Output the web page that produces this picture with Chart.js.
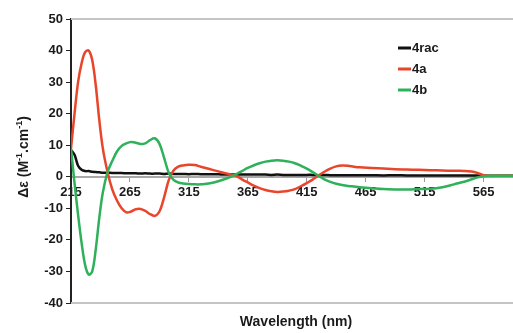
<!DOCTYPE html>
<html>
<head>
<meta charset="utf-8">
<script src="https://cdn.jsdelivr.net/npm/chart.js@4.4.1/dist/chart.umd.min.js"></script>
<style>
  html, body { margin: 0; padding: 0; background: #fff; }
  #wrap { width: 513px; height: 333px; position: relative; }
</style>
</head>
<body>
<div id="wrap"><canvas id="mycanvas"></canvas></div>
<script>
// wavelengths (nm) shared by all three series
var wavelength = [215, 218, 221, 224, 227, 230, 233, 236, 239, 242, 246, 250, 254, 258, 262, 266, 270, 274, 278, 282,
	286, 290, 294, 298, 302, 306, 310, 315, 320, 325, 330, 335, 340, 345, 350, 355, 360, 365, 370, 375,
	380, 385, 390, 395, 400, 405, 410, 415, 420, 425, 430, 435, 440, 445, 450, 455, 460, 470, 480, 490,
	500, 510, 520, 530, 540, 545, 550, 555, 560, 565, 570, 575, 580, 585, 590];

var rac = [8.5, 7, 3.5, 2.2, 1.8, 1.8, 1.6, 1.5, 1.4, 1.3, 1.3, 1.2, 1.2, 1.2, 1.1, 1.1, 1.1, 1.0, 1.1, 1.0,
	1.0, 1.0, 0.9, 1.0, 0.9, 0.9, 0.9, 0.8, 0.9, 0.8, 0.8, 0.8, 0.8, 0.7, 0.8, 0.7, 0.7, 0.7, 0.7, 0.7,
	0.7, 0.6, 0.7, 0.6, 0.6, 0.6, 0.6, 0.6, 0.6, 0.5, 0.6, 0.5, 0.5, 0.5, 0.5, 0.5, 0.5, 0.5, 0.4, 0.5,
	0.4, 0.4, 0.4, 0.4, 0.4, 0.4, 0.4, 0.4, 0.4, 0.3, 0.3, 0.3, 0.3, 0.3, 0.3];

var a4 = [9, 20, 30, 36, 39.5, 40, 37, 29, 18, 9, 1.5, -4, -7.5, -10, -11.3, -11, -10.3, -10.2, -10.8, -11.8,
	-12.4, -11, -6.5, -1, 2, 3.2, 3.6, 3.8, 3.7, 3.2, 2.7, 2.2, 1.7, 1.2, 0.8, 0.3, -0.8, -1.8, -2.8, -3.6,
	-4.2, -4.6, -4.8, -4.7, -4.4, -3.9, -3.0, -2.0, -0.9, 0.4, 1.6, 2.6, 3.3, 3.6, 3.5, 3.2, 3.0, 2.8, 2.6, 2.4,
	2.3, 2.2, 2.1, 2.0, 1.9, 1.9, 1.8, 1.7, 1.2, 0.5, 0.3, 0.3, 0.3, 0.3, 0.3];

var b4 = [9, -2, -12, -21, -28, -31, -30, -23, -13, -5, 1.5, 5, 8, 9.8, 10.6, 11, 10.8, 10.4, 10.6, 11.6,
	12.2, 10.5, 6, 1.2, -1, -1.8, -2.1, -2.3, -2.4, -2.4, -2.2, -1.9, -1.4, -0.8, -0.1, 0.8, 1.8, 2.8, 3.6, 4.3,
	4.8, 5.1, 5.2, 5.1, 4.8, 4.3, 3.5, 2.6, 1.5, 0.3, -0.8, -1.6, -2.2, -2.6, -2.9, -3.1, -3.3, -3.6, -3.9, -4.0,
	-4.0, -3.9, -3.8, -3.3, -2.4, -1.9, -1.4, -0.8, -0.2, 0.2, 0.3, 0.3, 0.3, 0.3, 0.3];

var xTicks = [215, 265, 315, 365, 415, 465, 515, 565];
var seriesNames = ["4rac", "4a", "4b"];
var seriesColors = ["#111111", "#e9452b", "#2fb05a"];

var FONT = "'Liberation Sans', Arial, sans-serif";

function pts(vals) {
	var out = [];
	for (var i in wavelength) {
		out.push({x: wavelength[i], y: vals[i]});
	}
	return out;
}

// frame lines, axis titles and legend, drawn like the original figure
var decorations = {
	id: 'decorations',
	beforeDatasetsDraw: function(chart) {
		var c = chart.ctx, area = chart.chartArea;
		c.save();
		c.strokeStyle = "#c4c4c4";
		c.lineWidth = 2;
		c.beginPath();
		c.moveTo(area.left, area.top); c.lineTo(area.right, area.top);
		c.moveTo(area.left, area.bottom); c.lineTo(area.right, area.bottom);
		c.stroke();
		c.restore();
	},
	afterDraw: function(chart) {
		var c = chart.ctx;
		c.save();
		c.fillStyle = "#1a1a1a";
		c.textBaseline = "middle";

		// x title
		c.font = "bold 14px " + FONT;
		c.textAlign = "center";
		c.fillText("Wavelength (nm)", 296, 322);

		// y title, rotated, with superscripts
		c.translate(24, 157);
		c.rotate(-Math.PI / 2);
		var parts = [["\u0394\u03b5 (M", 0], ["-1", 1], [".cm", 0], ["-1", 1], [")", 0]];
		var w = 0;
		for (var i in parts) {
			c.font = parts[i][1] ? "bold 9px " + FONT : "bold 14px " + FONT;
			w += c.measureText(parts[i][0]).width;
		}
		var x = -w / 2;
		c.textAlign = "left";
		for (var i in parts) {
			c.font = parts[i][1] ? "bold 9px " + FONT : "bold 14px " + FONT;
			c.fillText(parts[i][0], x, parts[i][1] ? -4 : 0);
			x += c.measureText(parts[i][0]).width;
		}
		c.restore();

		// legend
		c.save();
		c.font = "bold 13px " + FONT;
		c.textAlign = "left";
		c.textBaseline = "middle";
		for (var k = 0; k < seriesNames.length; k++) {
			var y = 48 + k * 21;
			c.strokeStyle = seriesColors[k];
			c.lineWidth = 3;
			c.beginPath();
			c.moveTo(398, y); c.lineTo(411, y);
			c.stroke();
			c.fillStyle = "#1a1a1a";
			c.fillText(seriesNames[k], 412, y);
		}
		c.restore();
	}
};

var chartdata = {
	datasets: [
		{ label: seriesNames[0], data: pts(rac), borderColor: seriesColors[0], order: 2 },
		{ label: seriesNames[1], data: pts(a4), borderColor: seriesColors[1], order: 1 },
		{ label: seriesNames[2], data: pts(b4), borderColor: seriesColors[2], order: 0 }
	]
};

var ctx = document.getElementById("mycanvas");

var LineGraph = new Chart(ctx, {
	type: 'line',
	data: chartdata,
	plugins: [decorations],
	options: {
		responsive: true,
		maintainAspectRatio: false,
		animation: false,
		layout: { padding: { top: 19, right: 0, bottom: 30, left: 0 } },
		elements: {
			point: { radius: 0 },
			line: { borderWidth: 2.5, tension: 0.35, fill: false }
		},
		plugins: {
			legend: { display: false },
			tooltip: { enabled: false }
		},
		scales: {
			x: {
				type: 'linear',
				position: { y: 0 },
				min: 215,
				max: 590,
				afterBuildTicks: function(s) {
					s.ticks = xTicks.map(function(v) { return {value: v}; });
				},
				grid: { drawOnChartArea: false, drawTicks: true, tickLength: 4, color: "#999999" },
				border: { display: true, color: "#a8a8a8", width: 2 },
				ticks: {
					padding: 4,
					color: "#1a1a1a",
					maxRotation: 0,
					autoSkip: false,
					font: { family: FONT, size: 13, weight: 'bold' }
				}
			},
			y: {
				min: -40,
				max: 50,
				afterFit: function(s) { s.width = 71; },
				grid: { drawOnChartArea: false, drawTicks: true, tickLength: 5, color: "#222222" },
				border: { display: true, color: "#222222", width: 2 },
				ticks: {
					stepSize: 10,
					padding: 3,
					color: "#1a1a1a",
					font: { family: FONT, size: 13, weight: 'bold' }
				}
			}
		}
	}
});
</script>
</body>
</html>
